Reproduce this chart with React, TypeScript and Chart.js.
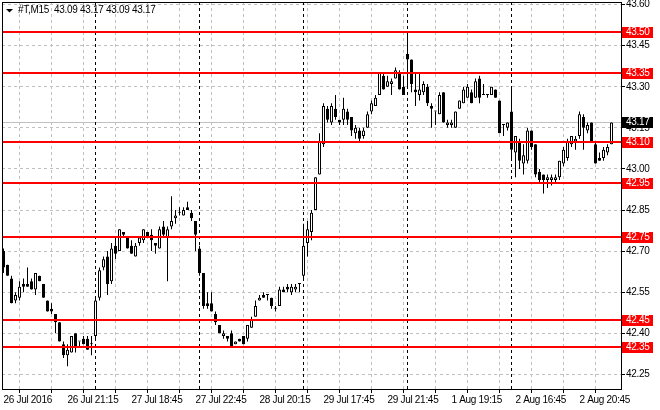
import { useEffect, useRef } from 'react';
import { Chart, registerables } from 'chart.js';

Chart.register(...registerables);

// ---- Data (M15 candles, bar index 0 = 26 Jul 2016 17:15) ----
const opens = [
  42.70, 42.65, 42.60, 42.52, 42.53, 42.58, 42.58, 42.59, 42.56, 42.61, 42.58, 42.52, 42.49, 42.47, 42.44, 42.36, 42.32, 42.33, 42.40, 42.37, 42.38, 42.38, 42.36,
  42.39, 42.53, 42.64, 42.68, 42.59, 42.72, 42.70, 42.77, 42.75, 42.72, 42.68, 42.73, 42.74, 42.77, 42.76, 42.73, 42.71, 42.79, 42.75, 42.79, 42.82, 42.84, 42.83, 42.86, 42.84, 42.81,
  42.71, 42.62, 42.51, 42.51, 42.47, 42.43, 42.39, 42.39, 42.40, 42.36, 42.38, 42.39, 42.38, 42.42, 42.46, 42.52, 42.54, 42.54, 42.53, 42.49, 42.50, 42.56, 42.57, 42.55, 42.56, 42.58,
  42.61, 42.73, 42.77, 42.85, 42.98, 43.09, 43.22, 43.17, 43.22, 43.18, 43.18, 43.21, 43.19, 43.13, 43.14, 43.12, 43.15, 43.21, 43.23, 43.27, 43.34, 43.30, 43.31, 43.33, 43.35, 43.30,
  43.42, 43.40, 43.29, 43.27, 43.28, 43.30, 43.23, 43.21, 43.20, 43.28, 43.16, 43.16, 43.15, 43.22, 43.24, 43.26, 43.28, 43.26, 43.33, 43.27, 43.27, 43.27, 43.29, 43.25, 43.16, 43.15,
  43.21, 43.06, 43.10, 43.02, 43.03, 43.14, 43.09, 42.99, 42.98, 42.96, 42.96, 42.96, 42.97, 43.02, 43.04, 43.09, 43.10, 43.12, 43.19, 43.14, 43.17, 43.09, 43.04, 43.04, 43.06, 43.09,
];
const highs = [
  42.71, 42.65, 42.61, 42.55, 42.59, 42.60, 42.64, 42.60, 42.62, 42.61, 42.58, 42.52, 42.51, 42.47, 42.44, 42.37, 42.36, 42.39, 42.40, 42.37, 42.39, 42.39, 42.39,
  42.53, 42.64, 42.68, 42.70, 42.73, 42.75, 42.78, 42.77, 42.75, 42.74, 42.73, 42.75, 42.78, 42.77, 42.78, 42.73, 42.79, 42.81, 42.79, 42.90, 42.85, 42.86, 42.86, 42.88, 42.85, 42.81,
  42.72, 42.62, 42.55, 42.55, 42.48, 42.43, 42.41, 42.39, 42.41, 42.37, 42.38, 42.39, 42.43, 42.46, 42.52, 42.54, 42.55, 42.54, 42.53, 42.50, 42.57, 42.57, 42.58, 42.58, 42.58, 42.58,
  42.80, 42.81, 42.85, 42.97, 43.13, 43.24, 43.23, 43.24, 43.27, 43.18, 43.26, 43.22, 43.19, 43.16, 43.15, 43.15, 43.21, 43.25, 43.27, 43.35, 43.35, 43.34, 43.33, 43.37, 43.36, 43.34,
  43.50, 43.40, 43.35, 43.35, 43.32, 43.31, 43.24, 43.21, 43.28, 43.28, 43.18, 43.18, 43.21, 43.25, 43.30, 43.31, 43.29, 43.33, 43.34, 43.31, 43.27, 43.30, 43.29, 43.25, 43.16, 43.17,
  43.30, 43.12, 43.11, 43.09, 43.15, 43.14, 43.09, 43.00, 42.98, 42.98, 42.98, 42.98, 43.03, 43.08, 43.11, 43.12, 43.12, 43.21, 43.20, 43.17, 43.17, 43.10, 43.06, 43.08, 43.09, 43.17,
];
const lows = [
  42.62, 42.61, 42.51, 42.51, 42.52, 42.55, 42.57, 42.56, 42.54, 42.59, 42.53, 42.48, 42.47, 42.40, 42.37, 42.31, 42.28, 42.33, 42.33, 42.35, 42.36, 42.34, 42.32,
  42.38, 42.52, 42.63, 42.54, 42.58, 42.67, 42.70, 42.75, 42.71, 42.69, 42.68, 42.72, 42.73, 42.75, 42.70, 42.69, 42.71, 42.75, 42.59, 42.78, 42.80, 42.83, 42.83, 42.85, 42.81, 42.70,
  42.61, 42.49, 42.49, 42.48, 42.43, 42.40, 42.38, 42.37, 42.35, 42.36, 42.37, 42.36, 42.37, 42.42, 42.46, 42.52, 42.53, 42.52, 42.49, 42.48, 42.50, 42.55, 42.55, 42.54, 42.55, 42.55,
  42.60, 42.68, 42.74, 42.85, 42.98, 43.08, 43.17, 43.16, 43.18, 43.16, 43.16, 43.16, 43.12, 43.11, 43.10, 43.11, 43.15, 43.20, 43.23, 43.27, 43.29, 43.30, 43.27, 43.33, 43.29, 43.27,
  43.30, 43.28, 43.23, 43.25, 43.27, 43.23, 43.15, 43.16, 43.20, 43.17, 43.15, 43.15, 43.15, 43.22, 43.24, 43.26, 43.24, 43.26, 43.24, 43.27, 43.26, 43.27, 43.26, 43.13, 43.12, 43.14,
  43.04, 42.97, 43.00, 42.98, 43.02, 43.07, 42.97, 42.95, 42.91, 42.93, 42.94, 42.95, 42.96, 43.01, 43.03, 43.08, 43.07, 43.11, 43.07, 43.13, 43.10, 43.02, 43.03, 43.03, 43.05, 43.09,
];
const closes = [
  42.64, 42.61, 42.51, 42.54, 42.57, 42.57, 42.57, 42.56, 42.62, 42.59, 42.53, 42.48, 42.48, 42.44, 42.37, 42.32, 42.34, 42.39, 42.35, 42.37, 42.36, 42.34, 42.36,
  42.52, 42.63, 42.67, 42.58, 42.71, 42.69, 42.78, 42.76, 42.71, 42.69, 42.72, 42.75, 42.78, 42.75, 42.74, 42.72, 42.78, 42.76, 42.78, 42.81, 42.83, 42.84, 42.85, 42.85, 42.82, 42.76,
  42.62, 42.50, 42.50, 42.48, 42.44, 42.40, 42.40, 42.38, 42.35, 42.37, 42.37, 42.36, 42.43, 42.45, 42.50, 42.53, 42.53, 42.54, 42.50, 42.49, 42.56, 42.55, 42.56, 42.57, 42.57, 42.58,
  42.72, 42.78, 42.84, 42.97, 43.10, 43.23, 43.18, 43.23, 43.19, 43.17, 43.22, 43.18, 43.14, 43.15, 43.11, 43.14, 43.20, 43.24, 43.26, 43.35, 43.29, 43.32, 43.32, 43.36, 43.29, 43.27,
  43.40, 43.31, 43.28, 43.29, 43.31, 43.24, 43.22, 43.21, 43.27, 43.17, 43.17, 43.17, 43.21, 43.25, 43.29, 43.30, 43.24, 43.32, 43.26, 43.27, 43.27, 43.30, 43.26, 43.13, 43.16, 43.17,
  43.07, 43.12, 43.03, 43.05, 43.14, 43.08, 42.98, 42.96, 42.96, 42.97, 42.97, 42.97, 43.03, 43.07, 43.10, 43.12, 43.11, 43.20, 43.15, 43.16, 43.10, 43.02, 43.03, 43.07, 43.08, 43.17,
];

const gridBars = [0, 8, 16, 24, 32, 40, 48, 56, 64, 72, 80, 88, 96, 104, 112, 120, 128, 136, 144, 152];
const labelBars = [0, 16, 32, 48, 64, 80, 96, 112, 128, 144];
const labelTexts = ['26 Jul 2016', '26 Jul 21:15', '27 Jul 18:45', '27 Jul 22:45', '28 Jul 20:15', '29 Jul 17:45', '29 Jul 21:45', '1 Aug 19:15', '2 Aug 16:45', '2 Aug 20:45'];
const priceTicks = [42.25, 42.40, 42.55, 42.70, 42.85, 43.00, 43.15, 43.30, 43.45, 43.60];
const levels = [43.50, 43.35, 43.10, 42.95, 42.75, 42.45, 42.35];
const separatorBars = [23, 49, 75, 101, 127];
const bidPrice = 43.17;
const headerText = '#T,M15  43.09 43.17 43.09 43.17';

const X_MIN = -0.375;
const X_MAX = 154.375;
const Y_MIN = 42.1966;
const Y_MAX = 43.6095;

const FAMILY = '"Liberation Sans"';
const SIZE = 10;
const FONT = `${SIZE}px ${FAMILY}`;
const SPACING = '-0.3px';

export default function App() {
  const ref = useRef<HTMLCanvasElement | null>(null);
  useEffect(() => {
    const canvas = ref.current;
    if (!canvas) return;
    Chart.defaults.font.family = FAMILY;
    Chart.defaults.font.size = SIZE;
    Chart.defaults.color = '#000000';

    const overlay = {
      id: 'mt4overlay',
      beforeDraw(chart: any) {
        try {
          chart.ctx.letterSpacing = SPACING;
        } catch (e) {
          /* ignore */
        }
      },
      beforeDatasetsDraw(chart: any) {
        const { ctx, chartArea: a, scales } = chart;
        const x = scales.x;
        const y = scales.y;
        ctx.save();
        const by = Math.round(y.getPixelForValue(bidPrice)) + 0.5;
        ctx.strokeStyle = '#C0C0C0';
        ctx.lineWidth = 1;
        ctx.beginPath();
        ctx.moveTo(a.left, by);
        ctx.lineTo(a.right, by);
        ctx.stroke();
        ctx.strokeStyle = '#000000';
        ctx.setLineDash([3, 3]);
        for (const b of separatorBars) {
          const sx = Math.floor(x.getPixelForValue(b)) + 0.5;
          ctx.beginPath();
          ctx.moveTo(sx, a.top);
          ctx.lineTo(sx, a.bottom);
          ctx.stroke();
        }
        ctx.restore();
      },
      afterDatasetsDraw(chart: any) {
        const { ctx, chartArea: a, scales } = chart;
        const y = scales.y;
        ctx.save();
        ctx.fillStyle = '#FF0000';
        for (const lv of levels) {
          const py = Math.round(y.getPixelForValue(lv));
          ctx.fillRect(a.left, py - 1, a.right - a.left, 2);
        }
        ctx.restore();
      },
      afterDraw(chart: any) {
        const { ctx, chartArea: a, scales } = chart;
        const y = scales.y;
        ctx.save();
        ctx.strokeStyle = '#000000';
        ctx.lineWidth = 1;
        ctx.strokeRect(a.left + 0.5, a.top + 0.5, a.right - a.left, a.bottom - a.top);
        ctx.font = FONT;
        ctx.textBaseline = 'middle';
        ctx.textAlign = 'left';
        const drawBox = (v: number, bg: string) => {
          const py = Math.round(y.getPixelForValue(v));
          ctx.fillStyle = bg;
          ctx.fillRect(a.right + 1, py - 5, 31, 11);
          ctx.fillStyle = '#FFFFFF';
          ctx.fillText(v.toFixed(2), a.right + 5, py + 0.5);
        };
        for (const lv of levels) drawBox(lv, '#FF0000');
        drawBox(bidPrice, '#000000');
        ctx.fillStyle = '#000000';
        ctx.beginPath();
        ctx.moveTo(6, 9);
        ctx.lineTo(13, 9);
        ctx.lineTo(9.5, 12.5);
        ctx.closePath();
        ctx.fill();
        ctx.font = FONT;
        ctx.textBaseline = 'middle';
        ctx.fillText(headerText, 18, 10.5);
        ctx.restore();
      },
    };

    const gridOpts = {
      color: '#C0C0C0',
      lineWidth: 1,
      drawTicks: true,
      tickLength: 4,
      tickColor: '#000000',
      tickWidth: 1,
      tickBorderDash: [],
    };
    const chart = new Chart(canvas, {
      type: 'bar',
      data: {
        datasets: [
          {
            label: 'body',
            data: opens.map((o, i) => ({ x: i, y: [o, closes[i]] })) as any,
            backgroundColor: opens.map((o, i) => (closes[i] > o ? '#FFFFFF' : '#000000')),
            borderColor: '#000000',
            borderWidth: 1,
            borderSkipped: false,
            barThickness: 3,
            minBarLength: 1,
            grouped: false,
            inflateAmount: 0,
          } as any,
          {
            label: 'wick',
            data: lows.map((l, i) => ({ x: i, y: [l, highs[i]] })) as any,
            backgroundColor: '#000000',
            borderWidth: 0,
            barThickness: 1,
            minBarLength: 1,
            grouped: false,
            inflateAmount: 0,
          } as any,
        ],
      },
      options: {
        animation: false,
        responsive: false,
        devicePixelRatio: 1,
        events: [],
        layout: { padding: { left: 2, top: 2, right: 0, bottom: 0 } },
        plugins: { legend: { display: false }, tooltip: { enabled: false }, title: { display: false } },
        scales: {
          x: {
            type: 'linear',
            min: X_MIN,
            max: X_MAX,
            offset: false,
            afterBuildTicks: (s: any) => {
              s.ticks = gridBars.map((v) => ({ value: v }));
            },
            afterFit: (s: any) => {
              s.height = 21;
              s.paddingLeft = 0;
              s.paddingRight = 0;
            },
            grid: gridOpts,
            border: { display: true, color: '#000000', width: 1, dash: [3, 3] },
            ticks: {
              autoSkip: false,
              maxRotation: 0,
              minRotation: 0,
              align: 'start',
              padding: 1,
              color: '#000000',
              font: { family: FAMILY, size: SIZE },
              callback: (v: any) => {
                const k = labelBars.indexOf(Number(v));
                return k >= 0 ? labelTexts[k] : '';
              },
            },
          },
          y: {
            type: 'linear',
            position: 'right',
            min: Y_MIN,
            max: Y_MAX,
            afterBuildTicks: (s: any) => {
              s.ticks = priceTicks.map((v) => ({ value: v }));
            },
            afterFit: (s: any) => {
              s.width = 39;
              s.paddingTop = 0;
              s.paddingBottom = 0;
            },
            grid: gridOpts,
            border: { display: true, color: '#000000', width: 1, dash: [3, 3] },
            ticks: {
              padding: 1,
              color: '#000000',
              font: { family: FAMILY, size: SIZE },
              callback: (v: any) => Number(v).toFixed(2),
            },
          },
        },
      } as any,
      plugins: [overlay],
    });
    return () => chart.destroy();
  }, []);
  return (
    <div style={{ position: 'fixed', left: 0, top: 0, width: 660, height: 410, background: '#FFFFFF' }}>
      <canvas ref={ref} width={660} height={410} style={{ display: 'block' }} />
    </div>
  );
}
